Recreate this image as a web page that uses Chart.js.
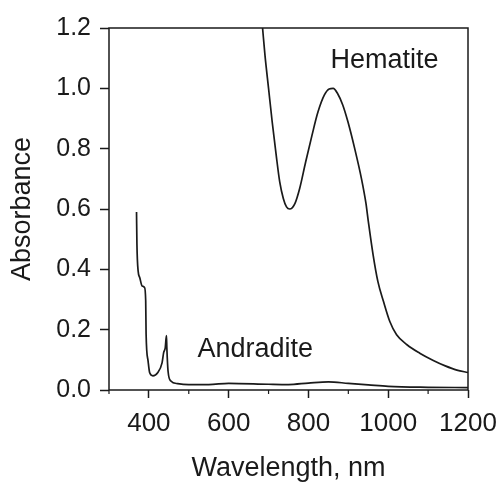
<!DOCTYPE html>
<html>
<head>
<meta charset="utf-8">
<script src="https://cdn.jsdelivr.net/npm/chart.js@4.4.1/dist/chart.umd.min.js"></script>
<style>
  html, body { margin: 0; padding: 0; background: #fff; }
  #wrap { width: 500px; height: 485px; position: relative; }
</style>
</head>
<body>
<div id="wrap"><canvas id="absChart"></canvas></div>
<script>
// hematite spectrum
const hemWl  = [685, 691, 700, 709, 719, 728, 737, 745, 753, 766, 778, 793, 809, 824, 840, 852, 862, 873, 886, 899, 916, 933, 944, 950, 962, 974, 988, 1004, 1021, 1047, 1079, 1113, 1143, 1172, 1200];
const hemAbs = [1.2, 1.11, 1.0, 0.89, 0.78, 0.69, 0.635, 0.607, 0.60, 0.618, 0.668, 0.756, 0.845, 0.922, 0.978, 0.998, 1.0, 0.983, 0.945, 0.889, 0.80, 0.70, 0.62, 0.56, 0.449, 0.36, 0.294, 0.227, 0.183, 0.15, 0.122, 0.098, 0.080, 0.066, 0.058];

// andradite spectrum
const andWl  = [369, 370, 373, 377, 383, 389, 392, 393, 398, 402, 410, 422, 433, 437, 441, 444, 445, 448, 455, 472, 500, 550, 600, 700, 750, 800, 850, 900, 950, 1000, 1100, 1200];
const andAbs = [0.59, 0.485, 0.395, 0.373, 0.345, 0.34, 0.296, 0.186, 0.096, 0.057, 0.047, 0.057, 0.09, 0.124, 0.14, 0.18, 0.14, 0.063, 0.03, 0.021, 0.018, 0.018, 0.022, 0.019, 0.018, 0.023, 0.027, 0.022, 0.017, 0.012, 0.009, 0.008];

// axes
const xMin = 300, xMax = 1200, xStep = 100;
const yMin = 0, yMax = 1.2, yStep = 0.2;

// text labels next to the curves: [text, wavelength, absorbance]
const curveLabels = [
  ["Hematite", 855, 1.068],
  ["Andradite", 522, 0.11]
];

const ink = "#1a1a1a";
const fam = "'Liberation Sans', Arial, sans-serif";

const toPts = (xs, ys) => xs.map((x, i) => ({ x: x, y: ys[i] }));

// box around plot, short minor ticks, curve names
const extras = {
  id: "extras",
  afterDraw(chart) {
    const { ctx, chartArea: a, scales: { x, y } } = chart;
    ctx.save();
    ctx.strokeStyle = ink;
    ctx.lineWidth = 1.5;
    ctx.strokeRect(a.left, a.top, a.right - a.left, a.bottom - a.top);

    ctx.lineWidth = 1.2;
    x.ticks.forEach(t => {
      if (t.value % 200 !== 0) {
        const px = x.getPixelForValue(t.value);
        ctx.beginPath();
        ctx.moveTo(px, a.bottom);
        ctx.lineTo(px, a.bottom + 4);
        ctx.stroke();
      }
    });

    ctx.fillStyle = ink;
    ctx.font = "27px " + fam;
    ctx.textAlign = "left";
    ctx.textBaseline = "alphabetic";
    curveLabels.forEach(([txt, wl, ab]) => {
      ctx.fillText(txt, x.getPixelForValue(wl), y.getPixelForValue(ab));
    });
    ctx.restore();
  }
};

new Chart(document.getElementById("absChart"), {
  type: "line",
  data: {
    datasets: [
      { label: "Hematite", data: toPts(hemWl, hemAbs) },
      { label: "Andradite", data: toPts(andWl, andAbs) }
    ]
  },
  options: {
    responsive: true,
    maintainAspectRatio: false,
    animation: false,
    layout: { padding: { top: 28, right: 0, left: 0, bottom: 0 } },
    elements: {
      point: { radius: 0 },
      line: { borderColor: ink, borderWidth: 1.7, cubicInterpolationMode: "monotone", fill: false }
    },
    plugins: { legend: { display: false }, tooltip: { enabled: false } },
    scales: {
      x: {
        type: "linear",
        min: xMin, max: xMax,
        afterFit: s => { s.height = 95; s.paddingRight = 32; s.paddingLeft = 0; },
        border: { display: false },
        grid: {
          drawOnChartArea: false,
          tickLength: 8,
          tickWidth: 1.5,
          tickColor: c => (c.tick && c.tick.value % 200 === 0 ? ink : "rgba(0,0,0,0)")
        },
        ticks: {
          stepSize: xStep,
          autoSkip: false,
          maxRotation: 0,
          color: ink,
          padding: 10,
          font: { size: 26, family: fam },
          callback: v => (v % 200 === 0 && v >= 400 ? String(v) : "")
        },
        title: {
          display: true,
          text: "Wavelength, nm",
          color: ink,
          font: { size: 27, family: fam, lineHeight: 1 },
          padding: { top: 0, bottom: 3 }
        }
      },
      y: {
        min: yMin, max: yMax,
        afterFit: s => { s.width = 109; },
        border: { display: false },
        grid: { drawOnChartArea: false, tickLength: 9, tickWidth: 1.5, tickColor: ink },
        ticks: {
          stepSize: yStep,
          color: ink,
          padding: 9,
          font: { size: 25, family: fam },
          callback: v => Number(v).toFixed(1)
        },
        title: {
          display: true,
          text: "Absorbance",
          color: ink,
          font: { size: 27, family: fam },
          padding: { top: 6, bottom: 0 }
        }
      }
    }
  },
  plugins: [extras]
});
</script>
</body>
</html>
